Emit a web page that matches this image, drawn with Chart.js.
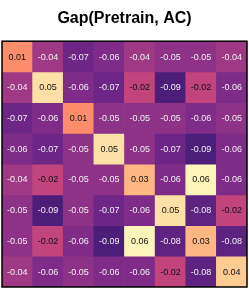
<!DOCTYPE html>
<html lang="en">
  <head>
    <meta charset="UTF-8" />
    <title>Gap(Pretrain, AC)</title>
    <script src="https://cdn.jsdelivr.net/npm/chart.js"></script>
    <style>
      html, body { margin: 0; padding: 0; background: #fff; }
      #wrap { width: 249px; height: 290px; }
    </style>
  </head>
  <body>
    <div id="wrap"><canvas id="heat"></canvas></div>
    <script>
      const title = "Gap(Pretrain, AC)";
      const cols = ["0", "1", "2", "3", "4", "5", "6", "7"];
      const rows = ["0", "1", "2", "3", "4", "5", "6", "7"];

      const row0 = [0.01, -0.04, -0.07, -0.06, -0.04, -0.05, -0.05, -0.04];
      const row1 = [-0.04, 0.05, -0.06, -0.07, -0.02, -0.09, -0.02, -0.06];
      const row2 = [-0.07, -0.06, 0.01, -0.05, -0.05, -0.05, -0.06, -0.05];
      const row3 = [-0.06, -0.07, -0.05, 0.05, -0.05, -0.07, -0.09, -0.06];
      const row4 = [-0.04, -0.02, -0.05, -0.05, 0.03, -0.06, 0.06, -0.06];
      const row5 = [-0.05, -0.09, -0.05, -0.07, -0.06, 0.05, -0.08, -0.02];
      const row6 = [-0.05, -0.02, -0.06, -0.09, 0.06, -0.08, 0.03, -0.08];
      const row7 = [-0.04, -0.06, -0.05, -0.06, -0.06, -0.02, -0.08, 0.04];
      const grid = [row0, row1, row2, row3, row4, row5, row6, row7];

      // magma stops
      const magma = [
        "#000004", "#140e36", "#3b0f70", "#641a80", "#8c2981", "#b73779",
        "#de4968", "#f7705c", "#fe9f6d", "#fecf92", "#fcfdbf",
      ].map((h) => [1, 3, 5].map((i) => parseInt(h.substr(i, 2), 16)));

      // two-slope norm: negatives and positives stretched separately
      function norm(v) {
        if (v < 0) return 0.6 + v * 4.2;
        return 0.7 + (v / 0.06) * 0.28;
      }

      function magmaColor(v) {
        const t = Math.max(0, Math.min(1, norm(v)));
        const p = t * (magma.length - 1);
        const i = Math.min(Math.floor(p), magma.length - 2);
        const f = p - i;
        const c = magma[i].map((a, k) => a + (magma[i + 1][k] - a) * f);
        // slight transparency over white
        const d = c.map((x) => Math.round(x * 0.95 + 255 * 0.05));
        return `rgb(${d[0]},${d[1]},${d[2]})`;
      }

      const cellText = {
        id: "cellText",
        afterDatasetsDraw(chart) {
          const ctx = chart.ctx;
          ctx.save();
          ctx.font = "9px 'Liberation Sans', Arial, sans-serif";
          ctx.textAlign = "center";
          ctx.textBaseline = "middle";
          chart.data.datasets.forEach((ds, r) => {
            chart.getDatasetMeta(r).data.forEach((bar, c) => {
              const v = ds.values[c];
              ctx.fillStyle = v > -0.03 ? "#111" : "#f0f0f0";
              ctx.fillText(v.toFixed(2), bar.x, (bar.y + bar.base) / 2 + 0.5);
            });
          });
          const a = chart.chartArea;
          ctx.strokeStyle = "#000";
          ctx.lineWidth = 1.5;
          ctx.strokeRect(a.left, a.top, a.right - a.left, a.bottom - a.top);
          ctx.restore();
        },
      };

      new Chart(document.getElementById("heat"), {
        type: "bar",
        data: {
          labels: cols,
          datasets: grid.map((vals, r) => ({
            label: rows[r],
            values: vals,
            data: vals.map(() => 1),
            backgroundColor: vals.map(magmaColor),
            borderWidth: 0,
            barPercentage: 1,
            categoryPercentage: 1,
          })),
        },
        options: {
          responsive: true,
          maintainAspectRatio: false,
          animation: false,
          layout: { padding: { top: 3, left: 2, right: 2, bottom: 3 } },
          plugins: {
            legend: { display: false },
            tooltip: { enabled: false },
            title: {
              display: true,
              text: title,
              color: "#000",
              font: { family: "'Liberation Sans', Arial, sans-serif", size: 16, weight: "bold" },
              padding: { top: 6, bottom: 13 },
            },
          },
          scales: {
            x: { stacked: true, display: false },
            y: { stacked: true, display: false, min: 0, max: 8, reverse: true },
          },
        },
        plugins: [cellText],
      });
    </script>
  </body>
</html>
